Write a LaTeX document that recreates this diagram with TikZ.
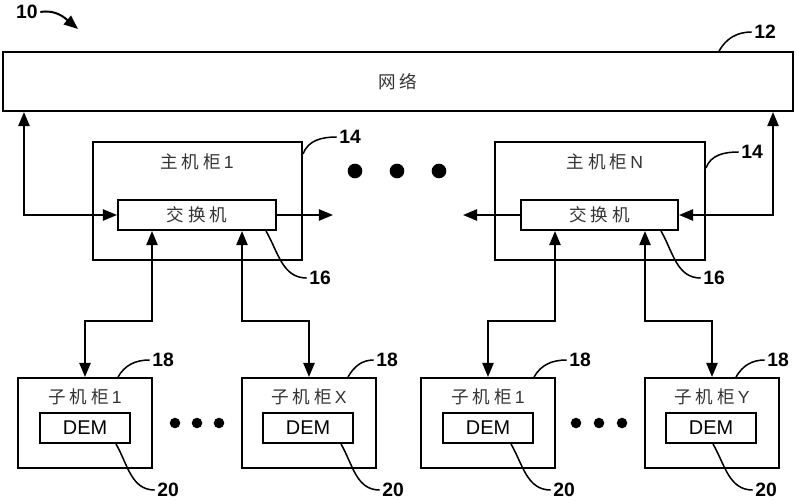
\documentclass[tikz,border=0pt]{standalone}
\usepackage{fontspec}
\setmainfont{Liberation Sans}
\newfontfamily\cjk[LetterSpace=22]{Noto Sans CJK SC}
\usetikzlibrary{arrows.meta,calc}

\begin{document}
\begin{tikzpicture}
	[x=0.03cm,y=-0.03cm,
	 box/.style={draw,line width=1.7pt,inner sep=0pt},
	 link/.style={line width=1.7pt,{Triangle[length=12pt,width=9.5pt]}-{Triangle[length=12pt,width=9.5pt]}},
	 oneway/.style={line width=1.7pt,-{Triangle[length=12pt,width=9.5pt]}},
	 lead/.style={line width=1.3pt},
	 num/.style={font=\bfseries\fontsize{16.5}{16.5}\selectfont,inner sep=2pt},
	 lbl/.style={font=\fontsize{15}{15}\selectfont,text=black!80},
	 dem/.style={box,minimum width=2.7cm,minimum height=0.9cm,font=\fontsize{17}{17}\selectfont},
	 sub/.style={box,minimum width=4.02cm,minimum height=2.7cm},
	 bigdot/.style={circle,fill,inner sep=0pt,minimum size=#1}]
    \useasboundingbox (0,0) rectangle (797,500);

    \node[box,lbl,minimum width=23.7cm,minimum height=1.77cm] (net) at (398,81.5) {\cjk 网络};

    \node[box,minimum width=6.27cm,minimum height=3.54cm] (host1) at (197.5,201) {};
    \node[lbl] (host1t) at (197,162) {{\cjk 主机柜}\,1};
    \node[box,lbl,minimum width=4.74cm,minimum height=0.9cm] (sw1) at (197,215) {\cjk 交换机};
    \node[box,minimum width=6.3cm,minimum height=3.54cm] (hostN) at (600,201) {};
    \node[lbl] (hostNt) at (605,162) {{\cjk 主机柜}\,N};
    \node[box,lbl,minimum width=4.71cm,minimum height=0.9cm] (swN) at (599.5,215) {\cjk 交换机};

    \node[sub] (sub1) at (85,423) {};
    \node[sub] (sub2) at (309,423) {};
    \node[sub] (sub3) at (488,423) {};
    \node[sub] (sub4) at (712,423) {};
    \node[lbl] (sub1t) at (85,397) {{\cjk 子机柜}\,1};
    \node[lbl] (sub2t) at (309,397) {{\cjk 子机柜}\,X};
    \node[lbl] (sub3t) at (488,397) {{\cjk 子机柜}\,1};
    \node[lbl] (sub4t) at (712,397) {{\cjk 子机柜}\,Y};
    \node[dem] (dem1) at (85,428) {DEM};
    \node[dem] (dem2) at (308,428) {DEM};
    \node[dem] (dem3) at (488,428) {DEM};
    \node[dem] (dem4) at (711,428) {DEM};

    % links to the network
    \draw[link] (sw1.west) -| ($(net.south west)+(22,0)$);
    \draw[link] (swN.east) -| ($(net.south east)+(-21,0)$);
    \coordinate (o1) at (333,215);
    \coordinate (oN) at (463,215);
    \draw[oneway] (sw1.east) -- (o1);
    \draw[oneway] (swN.west) -- (oN);

    % links to the sub cabinets
    \draw[link] ($(sw1.south)+(-45,0)$) -- ++(0,90) -| (sub1.north);
    \draw[link] ($(sw1.south)+(45,0)$) -- ++(0,90) -| (sub2.north);
    \draw[link] ($(swN.south)+(-44.5,0)$) -- ++(0,90) -| (sub3.north);
    \draw[link] ($(swN.south)+(45.5,0)$) -- ++(0,90) -| (sub4.north);

    \foreach \x in {355,397,439} \node[bigdot=12.5pt] at (\x,171) {};
    \foreach \x in {175,197,219,576,599,622} \node[bigdot=9pt] at (\x,423) {};

    % reference numbers
    \node[num] (n10) at (27,12) {10};
    \coordinate (a10) at (78,29);
    \draw[oneway] (n10.east) to[out=10,in=140] (a10);
    \node[num] (n12) at (765,32) {12};
    \draw[lead] ($(net.north east)+(-75,0)$) to[out=60,in=180] (n12.west);
    \node[num] (n14a) at (350,137) {14};
    \draw[lead] ($(host1.north east)+(0,13)$) to[out=70,in=180] (n14a.west);
    \node[num] (n14b) at (752,152) {14};
    \draw[lead] ($(hostN.north east)+(0,27)$) to[out=70,in=180] (n14b.west);
    \node[num] (n16a) at (320,278) {16};
    \draw[lead] ($(sw1.south east)+(-11,0)$) to[out=-60,in=180] (n16a.west);
    \node[num] (n16b) at (714,278) {16};
    \draw[lead] ($(swN.south east)+(-18,0)$) to[out=-60,in=180] (n16b.west);
    \node[num] (n18a) at (163,360) {18};
    \draw[lead] ($(sub1.north east)+(-35,0)$) to[out=60,in=180] (n18a.west);
    \node[num] (n18b) at (387,360) {18};
    \draw[lead] ($(sub2.north east)+(-29,0)$) to[out=60,in=180] (n18b.west);
    \node[num] (n18c) at (580,360) {18};
    \draw[lead] ($(sub3.north east)+(-22,0)$) to[out=60,in=180] (n18c.west);
    \node[num] (n18d) at (778,360) {18};
    \draw[lead] ($(sub4.north east)+(-44,0)$) to[out=60,in=180] (n18d.west);
    \node[num] (n20a) at (168,490) {20};
    \draw[lead] ($(dem1.south east)+(-15,0)$) to[out=-60,in=180] (n20a.west);
    \node[num] (n20b) at (393,490) {20};
    \draw[lead] ($(dem2.south east)+(-13,0)$) to[out=-60,in=180] (n20b.west);
    \node[num] (n20c) at (564,490) {20};
    \draw[lead] ($(dem3.south east)+(-23,0)$) to[out=-60,in=180] (n20c.west);
    \node[num] (n20d) at (766,490) {20};
    \draw[lead] ($(dem4.south east)+(-44,0)$) to[out=-60,in=180] (n20d.west);

\end{tikzpicture}
\end{document}
